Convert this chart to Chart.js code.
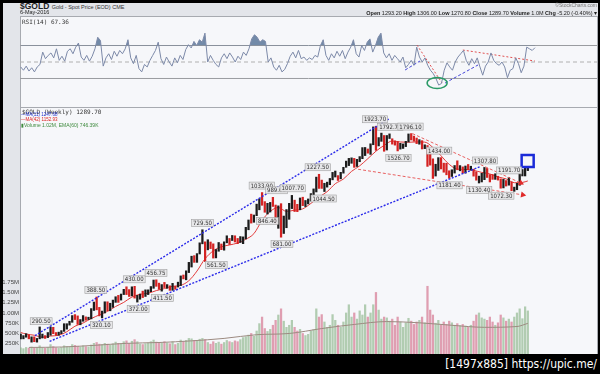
<!DOCTYPE html>
<html>
<head>
<meta charset="utf-8">
<title>$GOLD weekly</title>
<script src="https://cdn.jsdelivr.net/npm/chart.js@4.4.1/dist/chart.umd.min.js"></script>
<style>
  html, body { margin: 0; padding: 0; }
  body { width: 600px; height: 374px; background: #000; position: relative; overflow: hidden; font-family: "Liberation Sans", Arial, sans-serif; }
  #frame { position: absolute; left: 3px; top: 3px; width: 595px; height: 352px; background: #e3e5ea; }
  .panel { position: absolute; left: 20px; width: 578px; box-sizing: border-box; background: #f6f7fa; border: 1px solid #a7aab0; }
  #rsiPanel { top: 16px; height: 92px; }
  #pricePanel { top: 107px; height: 262px; }
  canvas { position: absolute; left: 0; }
  #rsiChart { top: 17px; }
  #priceChart { top: 107px; }
  .t { position: absolute; white-space: nowrap; line-height: 1; color: #222; z-index: 3; }
  #footer { position: absolute; left: 0; top: 354px; width: 600px; height: 20px; background: #000; z-index: 5; }
  #footer span { position: absolute; right: 3px; top: 3px; color: #fff; font: 12px "DejaVu Sans Condensed", "DejaVu Sans", sans-serif; }
</style>
</head>
<body>
<div id="frame"></div>
<div class="panel" id="rsiPanel"></div>
<div class="panel" id="pricePanel"></div>
<canvas id="rsiChart" width="600" height="90"></canvas>
<canvas id="priceChart" width="600" height="258"></canvas>

<div class="t" style="left:20px;top:2px;font-size:8.5px;font-weight:bold;">$GOLD <span style="font-weight:normal;font-size:5.5px;color:#333">Gold - Spot Price (EOD) CME</span></div>
<div class="t" style="left:20px;top:10px;font-size:5.5px;">6-May-2016</div>
<div class="t" style="right:3px;top:3px;font-size:5px;color:#777;">&copy;StockCharts.com</div>
<div class="t" style="right:3px;top:10.5px;font-size:5.5px;"><b>Open</b> 1293.20 <b>High</b> 1306.00 <b>Low</b> 1270.80 <b>Close</b> 1289.70 <b>Volume</b> 1.0M <b>Chg</b> -5.20 (-0.40%) &#9662;</div>
<div class="t" style="left:22px;top:17.5px;font:6px 'DejaVu Sans Mono',monospace;color:#333;">RSI(14) 67.36</div>
<div class="t" style="left:22px;top:108px;font:6px 'DejaVu Sans Mono',monospace;color:#333;">$GOLD (Weekly) 1289.70</div>
<div class="t" style="left:21px;top:113px;font-size:4.5px;color:#2233cc;">&mdash;MA(11) 1247.68</div>
<div class="t" style="left:21px;top:118px;font-size:4.5px;color:#dd2222;">&mdash;MA(42) 1152.93</div>
<div class="t" style="left:21px;top:123px;font-size:5px;color:#3d8a3d;">&#9646;Volume 1.02M, EMA(60) 746.39K</div>

<div id="footer"><span>[1497x885] https://upic.me/</span></div>

<script>
// monthly bars, Oct 2000 .. May 2016 (188 months)
const firstMonth = 2000 + 9.5 / 12;
const monthX = i => firstMonth + i / 12;
const xMin = 2000.77, xMax = 2018.255;

const priceClose = [
  264.5, 269.1, 274.45,
  265.6, 266.7, 257.7, 263.15, 267.5, 270.6, 265.9, 273.0, 293.1, 278.75, 275.5, 276.5,
  282.3, 296.85, 301.4, 308.2, 326.6, 318.5, 304.65, 312.8, 323.7, 316.9, 319.05, 347.2,
  367.5, 347.45, 334.85, 336.75, 361.4, 346.0, 354.75, 375.6, 388.0, 386.25, 398.35, 417.25,
  399.75, 395.85, 423.7, 388.5, 393.25, 395.8, 391.4, 407.25, 415.65, 425.55, 453.4, 435.6,
  422.15, 435.45, 427.5, 435.7, 414.45, 437.1, 429.0, 433.25, 473.25, 470.75, 495.65, 513.0,
  568.75, 556.0, 582.0, 644.0, 653.0, 613.5, 632.5, 623.5, 599.25, 603.75, 646.7, 632.0,
  650.5, 664.2, 661.75, 677.0, 659.1, 650.5, 665.5, 672.0, 743.0, 789.5, 783.5, 833.75,
  923.25, 971.5, 933.5, 871.0, 885.75, 930.25, 918.0, 833.0, 884.5, 730.75, 814.5, 869.75,
  919.5, 952.0, 916.5, 883.25, 975.5, 934.5, 939.0, 955.5, 995.75, 1040.0, 1175.75, 1087.5,
  1078.5, 1108.25, 1115.5, 1179.25, 1207.5, 1244.0, 1169.0, 1246.0, 1307.0, 1346.75, 1383.5, 1405.5,
  1327.0, 1411.0, 1439.0, 1535.5, 1536.5, 1505.5, 1628.5, 1813.5, 1620.0, 1722.0, 1746.0, 1531.0,
  1744.0, 1770.0, 1662.5, 1651.25, 1558.0, 1598.5, 1622.0, 1648.5, 1776.0, 1719.0, 1714.5, 1657.5,
  1664.75, 1578.25, 1598.25, 1469.0, 1394.5, 1192.0, 1314.5, 1394.75, 1326.5, 1324.0, 1253.0, 1204.5,
  1251.0, 1326.5, 1291.75, 1299.0, 1250.5, 1315.0, 1285.75, 1285.75, 1216.5, 1164.25, 1182.75, 1199.25,
  1260.25, 1214.0, 1187.0, 1180.25, 1189.75, 1171.0, 1098.4, 1135.0, 1114.0, 1142.35, 1061.1, 1062.25,
  1111.8, 1234.9, 1237.0, 1285.65, 1289.7
];

const priceHigh = [
  275, 271, 276,
  273, 268, 268, 264, 294, 275, 271, 279, 294, 293, 279, 280,
  284, 303, 303, 310, 327, 330, 326, 315, 327, 323, 322, 349,
  371, 389, 353, 341, 372, 372, 367, 378, 390, 395, 400, 418,
  428, 417, 428, 430, 395, 400, 411, 416, 416, 429, 456, 457,
  443, 437, 446, 437, 432, 442, 430, 447, 474, 478, 497, 538,
  570, 573, 584, 646, 730, 652, 665, 651, 640, 607, 648, 639,
  652, 690, 673, 692, 690, 673, 685, 683, 747, 800, 845, 838,
  928, 975, 1034, 950, 935, 943, 989, 920, 913, 932, 830, 882,
  935, 1007, 963, 926, 983, 990, 960, 974, 1024, 1070, 1195, 1227,
  1162, 1128, 1140, 1180, 1249, 1265, 1212, 1250, 1310, 1388, 1424, 1431,
  1424, 1411, 1448, 1575, 1577, 1555, 1632, 1912, 1924, 1730, 1804, 1764,
  1764, 1791, 1711, 1678, 1667, 1640, 1630, 1670, 1790, 1796, 1754, 1723,
  1697, 1681, 1617, 1606, 1488, 1418, 1348, 1434, 1434, 1362, 1361, 1268,
  1280, 1332, 1392, 1331, 1315, 1326, 1345, 1323, 1287, 1256, 1206, 1239,
  1308, 1296, 1224, 1224, 1233, 1205, 1175, 1170, 1157, 1192, 1143, 1088,
  1128, 1263, 1283, 1303, 1306
];

const priceLow = [
  263, 263, 267,
  263, 255, 256, 255, 263, 265, 264, 266, 272, 276, 272, 272,
  276, 282, 288, 299, 307, 315, 301, 300, 310, 313, 315, 317,
  343, 345, 326, 320, 335, 342, 342, 353, 370, 370, 378, 398,
  398, 391, 393, 385, 371, 381, 387, 391, 398, 409, 422, 430,
  418, 411, 425, 422, 414, 414, 418, 427, 433, 461, 457, 489,
  515, 538, 538, 582, 640, 542, 605, 612, 560, 561, 597, 606,
  603, 646, 636, 660, 651, 641, 648, 641, 670, 730, 777, 783,
  833, 880, 918, 860, 846, 862, 908, 773, 740, 681, 705, 744,
  805, 890, 866, 865, 880, 915, 907, 930, 955, 1000, 1040, 1075,
  1075, 1044, 1088, 1113, 1165, 1196, 1158, 1176, 1240, 1310, 1331, 1360,
  1309, 1320, 1380, 1420, 1462, 1495, 1478, 1618, 1535, 1600, 1670, 1522,
  1540, 1715, 1627, 1612, 1527, 1553, 1563, 1590, 1660, 1692, 1672, 1635,
  1626, 1555, 1560, 1321, 1337, 1180, 1207, 1272, 1290, 1251, 1221, 1182,
  1202, 1241, 1280, 1268, 1240, 1240, 1280, 1275, 1206, 1161, 1131, 1142,
  1167, 1191, 1142, 1170, 1170, 1162, 1077, 1080, 1099, 1108, 1052, 1046,
  1062, 1107, 1208, 1208, 1270
];

// weekly volume (thousands), one reading per month
const volumeK = [
  150, 130, 160,
  140, 170, 150, 160, 200, 150, 140, 160, 230, 180, 150, 140,
  160, 200, 180, 170, 230, 210, 190, 170, 200, 180, 170, 220,
  260, 280, 240, 230, 260, 240, 220, 250, 290, 260, 250, 300,
  320, 260, 310, 350, 300, 240, 230, 250, 270, 300, 340, 290,
  280, 260, 300, 270, 250, 300, 230, 260, 340, 300, 330, 380,
  370, 330, 310, 360, 380, 350, 280, 240, 300, 260, 290, 240,
  280, 330, 300, 280, 320, 300, 350, 400, 420, 460, 500, 430,
  560, 740, 900, 620, 550, 600, 700, 820, 950, 1100, 800, 650,
  700, 820, 650, 560, 600, 500, 450, 480, 560, 600, 1100, 900,
  960, 780, 650, 700, 960, 820, 700, 650, 780, 1000, 1200, 900,
  1000, 850, 1050, 950, 1200, 900, 1000, 1200, 1500, 1070, 850, 900,
  880, 800, 850, 700, 900, 780, 650, 760, 870, 800, 720, 780,
  820, 900, 760, 1650, 1070, 950, 750, 820, 700, 780, 720, 800,
  760, 700, 740, 690, 720, 680, 650, 700, 800, 950, 1000, 880,
  850, 820, 900, 780, 700, 760, 950, 880, 800, 850, 780, 900,
  1000, 1100, 860, 1150, 1050
];

// volume EMA(60), every January 2001..2016, then the last week
const volEmaJan = [160, 170, 210, 260, 280, 320, 380, 470, 500, 620, 720, 790, 760, 700, 650, 670];
const volEmaLast = 746.39;

// MA(42): Oct 2000, then each quarter end from Dec 2000, then last week
const ma42First = 279;
const ma42Quarterly = [
  275, 272, 267, 270, 272, 281, 296, 305, 318, 329, 340, 356, 370, 389, 399, 403,
  413, 421, 430, 434, 453, 496, 557, 599, 623, 633, 645, 668, 704, 797, 867, 899,
  867, 877, 888, 934, 991, 1043, 1123, 1174, 1261, 1328, 1420, 1523, 1608, 1675, 1660, 1656,
  1661, 1658, 1577, 1459, 1347, 1288, 1284, 1273, 1249, 1231, 1197, 1175, 1134, 1137
];
const ma42Last = 1152.93;

// RSI(14), one reading per month
const rsiValues = [
  44, 40, 45, 39, 43, 38, 44, 47, 62, 54, 58, 61, 55, 66, 52, 57, 51, 63, 66, 60,
  68, 73, 56, 52, 58, 51, 57, 66, 80, 76, 45, 55, 60, 53, 63, 57, 64, 60, 66, 77,
  55, 48, 58, 42, 38, 47, 44, 52, 58, 64, 74, 54, 47, 56, 50, 45, 55, 49, 58, 53,
  65, 71, 67, 75, 70, 77, 74, 85, 50, 58, 52, 47, 44, 55, 60, 54, 61, 56, 50, 57,
  53, 62, 58, 66, 78, 83, 80, 74, 77, 75, 50, 55, 44, 40, 46, 38, 41, 48, 57, 62,
  55, 64, 54, 56, 52, 55, 53, 58, 56, 70, 77, 58, 52, 60, 55, 63, 57, 64, 54, 62,
  68, 77, 60, 56, 70, 64, 74, 78, 62, 70, 80, 85, 61, 55, 60, 52, 58, 54, 50, 56,
  43, 47, 52, 46, 68, 56, 50, 55, 46, 40, 36, 30, 22, 24, 40, 49, 44, 40, 50, 56,
  60, 64, 52, 46, 54, 48, 55, 44, 34, 45, 50, 61, 52, 48, 46, 50, 44, 31, 40, 42,
  55, 48, 37, 45, 68, 66, 64, 67.36
];
const rsiLevels = [70, 50, 30];

// annotated highs / lows
const peakValues = [290.5, 388.5, 320.1, 430.0, 372.0, 456.75, 411.5, 729.5, 561.5, 1033.9, 989.6, 846.4, 1007.7,
  681.0, 1227.5, 1044.5, 1923.7, 1792.7, 1796.1, 1526.7, 1434.0, 1181.4, 1307.8, 1130.4, 1191.7, 1072.3];
const peakYears = [2001.42, 2003.10, 2003.27, 2004.28, 2004.40, 2004.95, 2005.15, 2006.38, 2006.80, 2008.20, 2008.65, 2008.37, 2009.15,
  2008.82, 2009.92, 2010.10, 2011.68, 2012.15, 2012.77, 2012.40, 2013.65, 2013.97, 2015.06, 2014.88, 2015.80, 2015.56];
const peakSides = ['above', 'above', 'below', 'above', 'below', 'above', 'below', 'above', 'below', 'above', 'above', 'below', 'above',
  'below', 'above', 'below', 'above', 'above', 'above', 'below', 'above', 'below', 'above', 'below', 'above', 'below'];

// drawn trend lines [year, value]
const channelUpper = [[2001.23, 271], [2012.10, 2057]];
const channelLower = [[2001.68, 257], [2014.92, 1320]];
const wedgeUpper = [[2012.83, 1796], [2016.16, 1131]];
const wedgeLower = [[2011.16, 1286], [2016.22, 1012]];
const targetBox = [2016.37, 1390];

const rsiRedA = [[2012.80, 70.6], [2013.56, 24.5]];
const rsiBlueA = [[2012.44, 40.3], [2012.89, 51.2]];
const rsiBlueB = [[2013.65, 24.5], [2014.65, 46.4]];
const rsiRedB = [[2014.19, 64.5], [2016.37, 51.2]];
const rsiCircle = [2013.41, 24.5];

const toPts = arr => arr.map(p => ({ x: p[0], y: p[1] }));
const isUp = priceClose.map((c, i) => i === 0 || c >= priceClose[i - 1]);

function trend(points, color, dash, width, axis) {
  return {
    type: 'line', data: toPts(points), yAxisID: axis, borderColor: color, borderWidth: width,
    borderDash: dash, pointRadius: 0, fill: false, order: 2
  };
}

// ---------- RSI panel ----------
const rsiExtras = {
  id: 'rsiExtras',
  afterDatasetsDraw(chart) {
    const { ctx, scales: { x, y } } = chart;
    ctx.save();
    ctx.strokeStyle = '#2a9a66';
    ctx.lineWidth = 1.5;
    ctx.beginPath();
    ctx.ellipse(x.getPixelForValue(rsiCircle[0]), y.getPixelForValue(rsiCircle[1]), 10, 5.5, 0, 0, Math.PI * 2);
    ctx.stroke();
    ctx.restore();
  }
};

new Chart(document.getElementById('rsiChart'), {
  type: 'line',
  data: {
    datasets: [
      {
        data: rsiValues.map((v, i) => ({ x: monthX(i), y: v })),
        borderColor: '#7c89a8', borderWidth: 1, pointRadius: 0, order: 1,
        fill: { target: { value: 70 }, above: 'rgba(70,102,140,0.75)', below: 'rgba(0,0,0,0)' }
      },
      ...rsiLevels.map(v => ({
        data: [{ x: xMin, y: v }, { x: xMax, y: v }],
        borderColor: v === 50 ? '#b0b0b0' : '#9a9ca0', borderWidth: 1,
        borderDash: v === 50 ? [4, 3] : [], pointRadius: 0, order: 5
      })),
      trend(rsiRedA, '#e05050', [2, 2], 1, 'y'),
      trend(rsiBlueA, '#4545d8', [3, 2], 1, 'y'),
      trend(rsiBlueB, '#4545d8', [3, 2], 1, 'y'),
      trend(rsiRedB, '#e05050', [2, 2], 1, 'y')
    ]
  },
  options: {
    responsive: false, animation: false, devicePixelRatio: 1, events: [],
    layout: { padding: { left: 20, right: 3, top: 0, bottom: 0 } },
    plugins: { legend: { display: false }, tooltip: { enabled: false } },
    scales: {
      x: { type: 'linear', min: xMin, max: xMax, offset: false, display: false },
      y: { type: 'linear', min: -4.55, max: 104.55, display: false }
    }
  },
  plugins: [rsiExtras]
});

// ---------- price + volume panel ----------
const peakLabels = {
  id: 'peakLabels',
  afterDatasetsDraw(chart) {
    const { ctx, scales: { x, y } } = chart;
    ctx.save();
    ctx.font = '6px "Liberation Sans Narrow", "DejaVu Sans Condensed", sans-serif';
    ctx.textAlign = 'center';
    ctx.textBaseline = 'middle';
    peakValues.forEach((v, k) => {
      const text = v.toFixed(2);
      const px = x.getPixelForValue(peakYears[k]);
      const py = y.getPixelForValue(v) + (peakSides[k] === 'above' ? -7 : 7);
      const w = ctx.measureText(text).width + 3;
      ctx.fillStyle = 'rgba(230,230,232,0.95)';
      ctx.fillRect(px - w / 2, py - 3.5, w, 7);
      ctx.strokeStyle = '#a0a0a0';
      ctx.lineWidth = 0.6;
      ctx.strokeRect(px - w / 2, py - 3.5, w, 7);
      ctx.fillStyle = '#333';
      ctx.fillText(text, px, py + 0.5);
    });
    ctx.restore();
  }
};

new Chart(document.getElementById('priceChart'), {
  type: 'line',
  data: {
    datasets: [
      {
        type: 'bar', yAxisID: 'yv', order: 6, grouped: false, barThickness: 1.6,
        data: volumeK.map((v, i) => ({ x: monthX(i), y: v })),
        backgroundColor: isUp.map(u => u ? 'rgba(140,182,138,0.65)' : 'rgba(214,120,146,0.7)')
      },
      {
        yAxisID: 'yv', order: 5, borderColor: '#9c8a80', borderWidth: 1, pointRadius: 0,
        cubicInterpolationMode: 'monotone',
        data: volEmaJan.map((v, k) => ({ x: monthX(3 + 12 * k), y: v })).concat([{ x: monthX(187), y: volEmaLast }])
      },
      {
        yAxisID: 'y', order: 4, borderColor: '#e23a3a', borderWidth: 1, pointRadius: 0,
        cubicInterpolationMode: 'monotone',
        data: [{ x: monthX(0), y: ma42First }]
          .concat(ma42Quarterly.map((v, k) => ({ x: monthX(2 + 3 * k), y: v })))
          .concat([{ x: monthX(187), y: ma42Last }])
      },
      {
        type: 'bar', yAxisID: 'y', order: 3, grouped: false, barThickness: 1.6,
        data: priceHigh.map((h, i) => ({ x: monthX(i), y: [priceLow[i], h] })),
        backgroundColor: isUp.map(u => u ? '#1c1c1c' : '#d42222')
      },
      trend(channelUpper, '#2b2bea', [2, 1.5], 1.4, 'y'),
      trend(channelLower, '#2b2bea', [2, 1.5], 1.4, 'y'),
      trend(wedgeUpper, '#e86060', [3, 2], 1, 'y'),
      trend(wedgeLower, '#e86060', [3, 2], 1, 'y'),
      {
        type: 'scatter', yAxisID: 'y', order: 1,
        data: [{ x: wedgeUpper[1][0], y: wedgeUpper[1][1] }, { x: wedgeLower[1][0], y: wedgeLower[1][1] }],
        pointStyle: 'triangle', pointRadius: 3.5, rotation: [116, 100],
        backgroundColor: '#e02a2a', borderColor: '#e02a2a', borderWidth: 0
      },
      {
        type: 'scatter', yAxisID: 'y', order: 1,
        data: [{ x: targetBox[0], y: targetBox[1] }],
        pointStyle: 'rect', pointRadius: 8.5, borderColor: '#1b2bd8', borderWidth: 2.5,
        backgroundColor: 'rgba(255,255,255,0)'
      }
    ]
  },
  options: {
    responsive: false, animation: false, devicePixelRatio: 1, events: [],
    layout: { padding: { left: 3, right: 3, top: 0, bottom: 0 } },
    plugins: { legend: { display: false }, tooltip: { enabled: false } },
    scales: {
      x: { type: 'linear', min: xMin, max: xMax, offset: false, display: false },
      y: { type: 'logarithmic', min: 228.2, max: 2078, display: false },
      yv: {
        type: 'linear', position: 'left', min: 0, max: 5750,
        grid: { display: false, drawTicks: false, tickLength: 0 }, border: { display: false },
        ticks: {
          stepSize: 250, autoSkip: false, padding: 1, color: '#444',
          font: { size: 6, family: 'Liberation Sans' },
          callback: v => (v > 0 && v <= 1750) ? (v >= 1000 ? (v / 1000).toFixed(2) + 'M' : v + 'K') : ''
        },
        afterFit(scale) { scale.width = 17; }
      }
    }
  },
  plugins: [peakLabels]
});
</script>
</body>
</html>
